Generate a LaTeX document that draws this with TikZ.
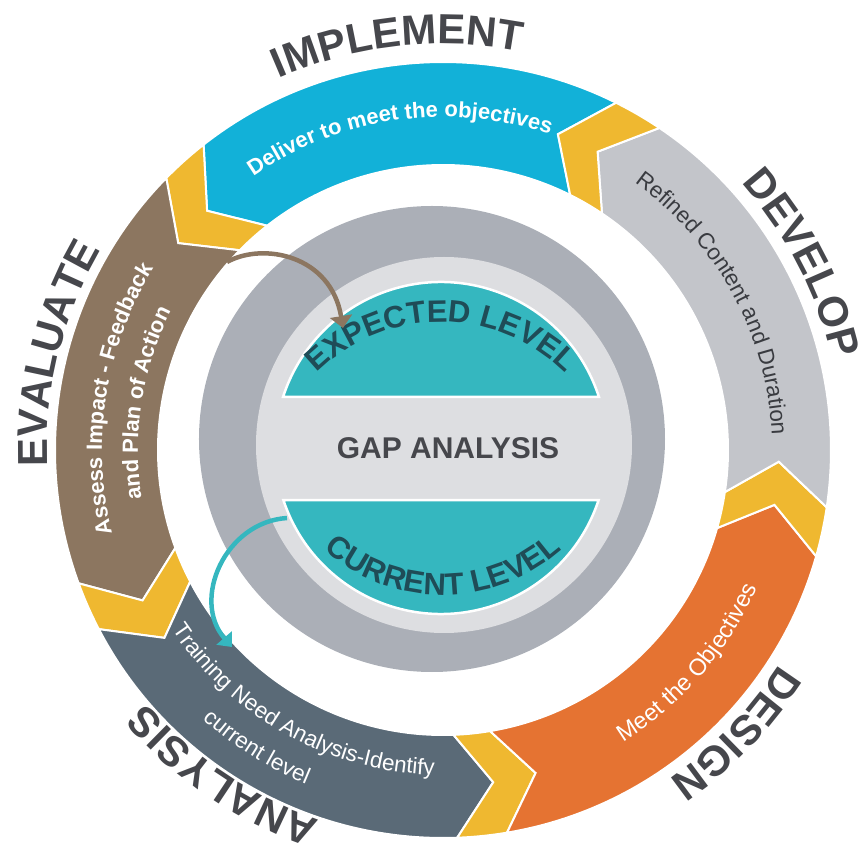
\documentclass[tikz,border=0pt]{standalone}
\usepackage{fontspec}
\setmainfont{Liberation Sans}
\usetikzlibrary{decorations.text,arrows.meta}

\definecolor{implblue}{HTML}{12B1D8}
\definecolor{devgray}{HTML}{C3C5CA}
\definecolor{desorange}{HTML}{E57332}
\definecolor{analslate}{HTML}{5A6A77}
\definecolor{evalbrown}{HTML}{8C7660}
\definecolor{chevyellow}{HTML}{EFB830}
\definecolor{discgray}{HTML}{ABAFB7}
\definecolor{disclight}{HTML}{DDDEE1}
\definecolor{capteal}{HTML}{35B7BF}
\definecolor{capdark}{HTML}{1F4C57}
\definecolor{labelgray}{HTML}{46474C}
\definecolor{refinedgray}{HTML}{393B40}

\newcommand{\ringout}{388pt}
\newcommand{\ringin}{285pt}
\newcommand{\ringmid}{336pt}
\newcommand{\ringtip}{6.5}
% one arrow shaped piece of the ring: start angle, end angle, colour
\newcommand{\ringpiece}[3]{%
  \filldraw[#3, draw=white, line width=2pt]
    (#1:\ringout) arc (#1:#2:\ringout) -- ({#2+\ringtip}:\ringmid) -- (#2:\ringin)
    arc (#2:#1:\ringin) -- ({#1+\ringtip}:\ringmid) -- cycle;}
% text on an arc: centre angle, radius, half span (<0 runs anticlockwise), font, colour, text
\newcommand{\arctext}[6]{%
  \path[decorate, decoration={text along path, text align=center, text color=#5,
      text={|#4|#6}}]
    ({#1+#3}:#2) arc ({#1+#3}:{#1-#3}:#2);}

\newcommand{\labelfont}{\fontsize{42}{44}\selectfont\bfseries}
\newcommand{\boldsmall}{\fontsize{22}{24}\selectfont\bfseries}
\newcommand{\plainsmall}{\fontsize{22.5}{24}\selectfont}
\newcommand{\levelfont}{\fontsize{31}{33}\selectfont\bfseries}

\begin{document}
\begin{tikzpicture}[x=1pt,y=1pt]
	\useasboundingbox (-443,-401) rectangle (422,450);

	% outer ring, pieces and yellow chevrons
	\foreach \s/\col in {63.5/implblue,135.5/evalbrown,207.5/analslate,279.5/desorange,351.5/devgray}{
		\pgfmathsetmacro{\e}{\s+64.6}
		\pgfmathsetmacro{\ce}{\s+72}
		\ringpiece{\s}{\e}{\col}
		\ringpiece{\e}{\ce}{chevyellow}
	}

	% centre discs
	\fill[discgray] (-11,11) circle (233pt);
	\fill[disclight] (1,5) circle (188pt);
	\begin{scope}[shift={(-2,2)}]
		\filldraw[capteal, draw=white, line width=2.5pt] (17.9:166pt) arc (17.9:162.1:166pt) -- cycle;
		\filldraw[capteal, draw=white, line width=2.5pt] (-18.3:166pt) arc (-18.3:-161.7:166pt) -- cycle;
	\end{scope}
	\node[font=\fontsize{30}{32}\selectfont\bfseries, text=labelgray] (gap) at (5,2) {GAP ANALYSIS};
	\begin{scope}[shift={(-2,-48)}]
		\arctext{90}{176pt}{70}{\levelfont}{capdark}{EXPECTED LEVEL}
	\end{scope}
	\begin{scope}[shift={(0,33)}]
		\arctext{270}{178pt}{-70}{\levelfont}{capdark}{CURRENT LEVEL}
	\end{scope}

	% stage names
	\arctext{96.4}{406pt}{40}{\labelfont}{labelgray}{IMPLEMENT}
	\arctext{27.5}{400pt}{40}{\labelfont}{labelgray}{DEVELOP}
	\arctext{-44}{399pt}{40}{\labelfont}{labelgray}{DESIGN}
	\arctext{236}{390pt}{40}{\labelfont}{labelgray}{ANALYSIS}
	\arctext{166}{396pt}{40}{\labelfont}{labelgray}{EVALUATE}

	% texts inside the ring
	\arctext{98}{333pt}{45}{\boldsmall}{white}{Deliver to meet the objectives}
	\arctext{28.5}{329pt}{45}{\plainsmall}{refinedgray}{Refined Content and Duration}
	\arctext{-41}{343pt}{-45}{\fontsize{23.5}{25}\selectfont}{white}{Meet the Objectives}
	\arctext{241}{325pt}{-45}{\plainsmall}{white}{Training Need Analysis-Identify}
	\arctext{238}{361pt}{-45}{\plainsmall}{white}{current level}
	\arctext{171}{341pt}{45}{\boldsmall}{white}{Assess Impact - Feedback}
	\arctext{171}{305pt}{45}{\boldsmall}{white}{and Plan of Action}

	% arrows
	\coordinate (evalstart) at (-216,188);
	\coordinate (expectedtip) at (-100,122);
	\coordinate (currentstart) at (-156,-68);
	\coordinate (analysistip) at (-211,-197);
	\draw[evalbrown, line width=4.5pt, -{Triangle[width=22pt,length=12pt]}]
		(evalstart) .. controls (-180,208) and (-112,195) .. (expectedtip);
	\draw[capteal, line width=4.5pt, -{Triangle[width=20pt,length=12pt]}]
		(currentstart) .. controls (-218,-72) and (-252,-150) .. (analysistip);
\end{tikzpicture}
\end{document}
